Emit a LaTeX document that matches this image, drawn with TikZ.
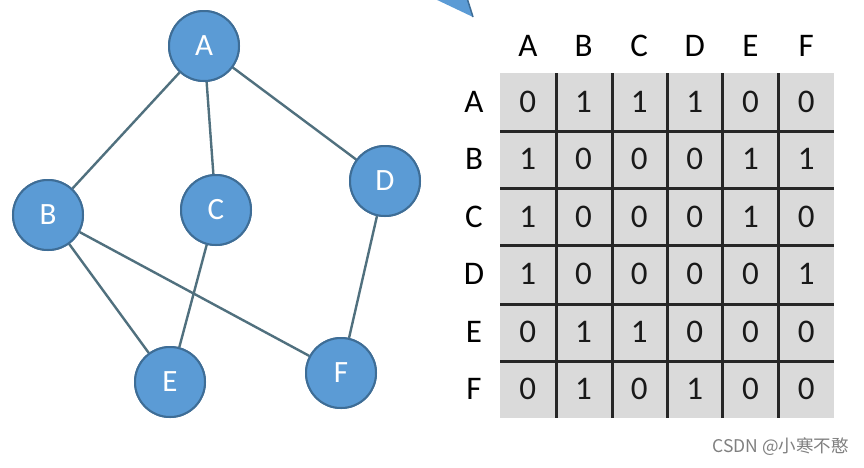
\documentclass[tikz,border=0pt]{standalone}
\usepackage{fontspec}
\setmainfont{Carlito}
\newfontfamily\cjk{Noto Sans CJK SC}
\definecolor{nodefill}{HTML}{5B9BD5}
\definecolor{nodeline}{HTML}{3E6D96}
\definecolor{edgecol}{HTML}{50707E}
\definecolor{cellgray}{HTML}{DADADA}
\definecolor{gridline}{HTML}{262626}
\begin{document}
\begin{tikzpicture}[x=1pt,y=-1pt,
  vert/.style={circle,fill=nodefill,draw=nodeline,line width=2pt,minimum size=70pt,inner sep=0pt,text=white,font=\fontsize{31}{36}\selectfont},
  edge/.style={draw=edgecol,line width=2.4pt},
  lbl/.style={font=\fontsize{33}{38}\selectfont,text=black,inner sep=0pt},
  cell/.style={font=\fontsize{33}{38}\selectfont,text=black!90,inner sep=0pt},
  gline/.style={draw=gridline,line width=3pt}]
\useasboundingbox (0,0) rectangle (864,467);
\fill[white] (0,0) rectangle (864,467);
% partial arrow at top
\fill[nodefill] (433,-2) -- (467,-2) -- (473,17) -- cycle;
\draw[nodeline,line width=1.5pt] (467,-2) -- (473,17);
% graph
\node[vert] (A) at (204,46) {A};
\node[vert] (B) at (48,215) {B};
\node[vert] (C) at (216,210) {C};
\node[vert] (D) at (385,181) {D};
\node[vert] (E) at (170,382) {E};
\node[vert] (F) at (341,373) {F};
\path[edge] (A) -- (B);
\path[edge] (A) -- (C);
\path[edge] (A) -- (D);
\path[edge] (B) -- (E);
\path[edge] (B) -- (F);
\path[edge] (C) -- (E);
\path[edge] (D) -- (F);
% redraw nodes on top
\node[vert] at (A) {A};
\node[vert] at (B) {B};
\node[vert] at (C) {C};
\node[vert] at (D) {D};
\node[vert] at (E) {E};
\node[vert] at (F) {F};
% matrix
\fill[cellgray] (500,73) rectangle (834,418);
\foreach \x in {556,612,667,722,778} \draw[gline] (\x,73) -- (\x,418);
\foreach \y in {131,188,245,304,361} \draw[gline] (500,\y) -- (834,\y);
\foreach \n [count=\i] in {A,B,C,D,E,F} {
  \pgfmathsetmacro{\cx}{500+55.67*(\i-0.5)}
  \pgfmathsetmacro{\ry}{73+57.5*(\i-0.5)}
  \node[lbl] (col\n) at (\cx,46) {\n};
  \node[lbl] (row\n) at (474,\ry) {\n};
}
\foreach \row [count=\r] in {{0,1,1,1,0,0},{1,0,0,0,1,1},{1,0,0,0,1,0},{1,0,0,0,0,1},{0,1,1,0,0,0},{0,1,0,1,0,0}} {
  \foreach \v [count=\c] in \row {
    \pgfmathsetmacro{\cx}{500+55.67*(\c-0.5)}
    \pgfmathsetmacro{\ry}{73+57.5*(\r-0.5)}
    \node[cell] (m\r\c) at (\cx,\ry) {\v};
  }
}
\node[anchor=east,inner sep=0pt,text=black!50,font=\cjk\fontsize{17.5}{20}\selectfont] (wm) at (849,447) {CSDN @小寒不憨};
\end{tikzpicture}
\end{document}
